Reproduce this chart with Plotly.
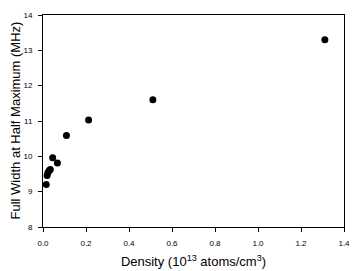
import plotly.graph_objects as go

density = [0.015, 0.019, 0.023, 0.029, 0.034, 0.045, 0.067, 0.109, 0.212, 0.511, 1.311]
fwhm = [9.20, 9.46, 9.54, 9.60, 9.63, 9.96, 9.81, 10.59, 11.03, 11.60, 13.30]
y_title = "Full Width at Half Maximum (MHz)"
x_title = "Density (10<sup>13</sup> atoms/cm<sup>3</sup>)"

fig = go.Figure(go.Scatter(
    x=density, y=fwhm, mode="markers",
    marker=dict(color="black", size=7),
))

font = dict(family="Liberation Sans, Arial, sans-serif", color="black")
# page body has an 8px default margin, so the figure is sized 352x263
fig.update_layout(
    width=352, height=263,
    margin=dict(l=35, r=16, t=7, b=44),
    paper_bgcolor="white", plot_bgcolor="white",
    showlegend=False,
    font=font,
)
fig.update_xaxes(
    range=[0, 1.4], tickvals=[0, 0.2, 0.4, 0.6, 0.8, 1.0, 1.2, 1.4],
    tickformat=".1f", ticks="outside", ticklen=4, tickcolor="black",
    showline=True, linecolor="black", linewidth=1, mirror=True,
    showgrid=False, zeroline=False, automargin=False,
    tickfont=dict(size=8, **font), ticklabelstandoff=4,
    title=dict(text=x_title, font=dict(size=13, **font), standoff=10),
)
fig.update_yaxes(
    range=[8, 14], tickvals=[8, 9, 10, 11, 12, 13, 14],
    ticks="outside", ticklen=4, tickcolor="black",
    showline=True, linecolor="black", linewidth=1, mirror=True,
    showgrid=False, zeroline=False, automargin=False,
    tickfont=dict(size=8, **font), ticklabelstandoff=4,
)
fig.add_annotation(
    text=y_title, textangle=-90, showarrow=False,
    xref="paper", yref="paper", x=0, y=0.5,
    xanchor="right", yanchor="middle", xshift=-19,
    font=dict(size=13, **font),
)
fig.write_html("out.html")
